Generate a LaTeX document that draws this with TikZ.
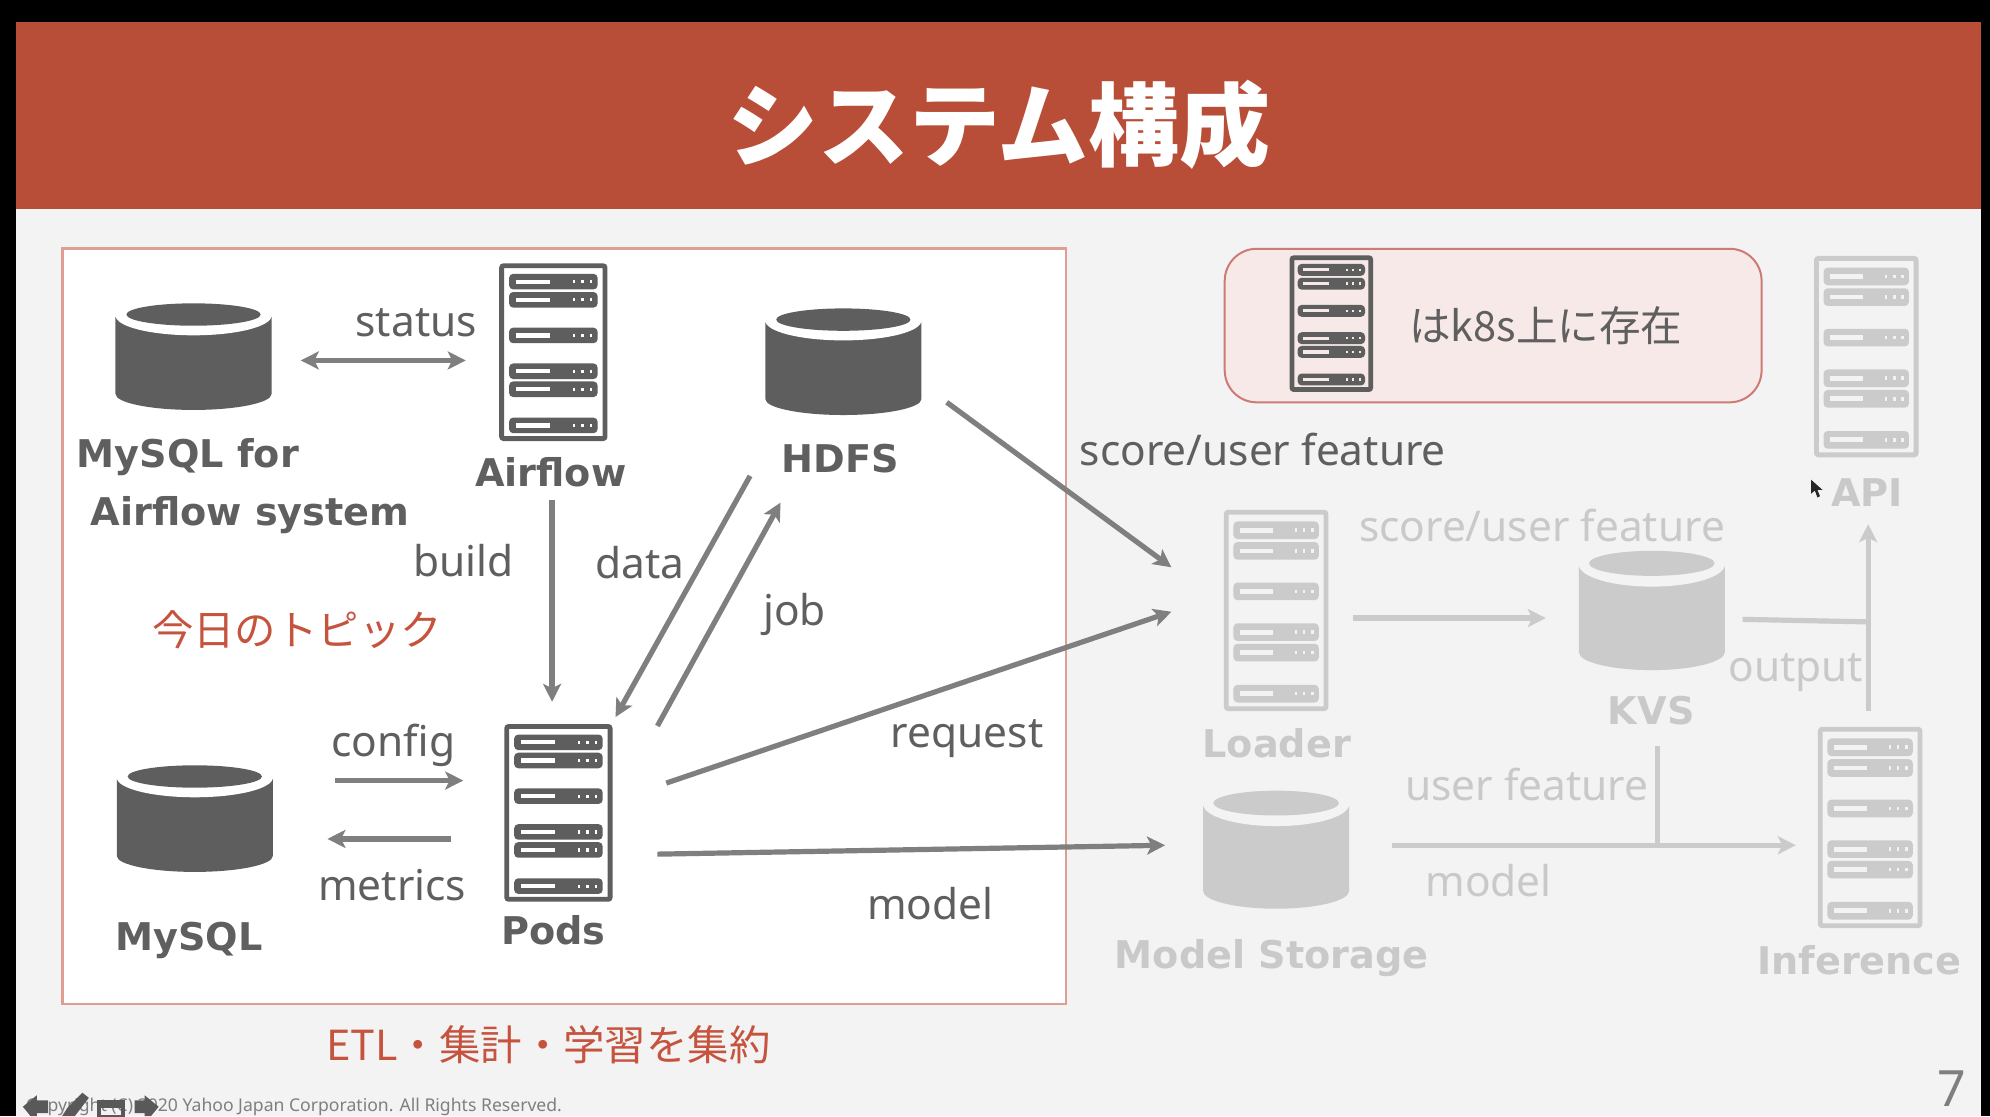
\documentclass[tikz,border=0pt]{standalone}
\usepackage{fontspec}
\setmainfont{Noto Sans}
\newfontfamily\jpf{Noto Sans CJK JP}
\newfontfamily\bfam{DejaVu Sans}
\usetikzlibrary{arrows.meta}
\definecolor{bgc}{HTML}{F3F3F3}
\definecolor{hdr}{HTML}{B94E38}
\definecolor{dk}{HTML}{5E5E5E}
\definecolor{txt}{HTML}{5F5F5F}
\definecolor{arr}{HTML}{7F7F7F}
\definecolor{lg}{HTML}{CBCBCB}
\definecolor{lgt}{HTML}{C9C9C9}
\definecolor{redt}{HTML}{C5533E}
\definecolor{bdr}{HTML}{DE9E92}
\definecolor{pinkf}{HTML}{F7E9E8}
\definecolor{pinkb}{HTML}{CC7B75}
\newcommand{\servicon}[6]{% x1 y1 x2 y2 colour barcolour
  \pgfmathsetmacro\sw{#3-#1}\pgfmathsetmacro\sh{#4-#2}
  \begin{scope}[shift={(#1,#2)},xscale=\sw,yscale=\sh]
    \draw[#5,line width=2.4pt,rounded corners=1pt] (0.015,0.01) rectangle (0.985,0.99);
    \foreach \yy in {0.10,0.203,0.405,0.608,0.71,0.915}{
      \fill[#5,rounded corners=2pt] (0.085,\yy-0.044) rectangle (0.915,\yy+0.044);
      \fill[#6] (0.15,\yy-0.012) rectangle (0.47,\yy+0.012);
      \foreach \xx in {0.68,0.76,0.84}{\fill[#6] (\xx,\yy-0.009) rectangle (\xx+0.025,\yy+0.009);}
    }
  \end{scope}}
\newcommand{\cylicon}[6]{% x1 y1 x2 y2 colour ringcolour
  \pgfmathsetmacro\sw{#3-#1}\pgfmathsetmacro\sh{#4-#2}
  \begin{scope}[shift={(#1,#2)},xscale=\sw,yscale=\sh]
    \fill[#5] (0,0.13) -- (0,0.85) arc[start angle=180,end angle=0,x radius=0.5,y radius=0.15] -- (1,0.13) -- cycle;
    \fill[#6] (0.5,0.115) ellipse[x radius=0.5,y radius=0.185];
    \fill[#5] (0.5,0.105) ellipse[x radius=0.43,y radius=0.105];
  \end{scope}}
\tikzset{
  lab/.style={font=\fontsize{21.2}{25}\selectfont,text=txt,inner sep=0pt},
  blab/.style={font=\bfam\fontsize{19.1}{23}\selectfont\bfseries,text=txt,inner sep=0pt},
  llab/.style={font=\fontsize{21.2}{25}\selectfont,text=lgt,inner sep=0pt},
  lblab/.style={font=\bfam\fontsize{19.1}{23}\selectfont\bfseries,text=lgt,inner sep=0pt},
  redlab/.style={font=\fontsize{20.7}{24}\selectfont\jpf,text=redt,inner sep=0pt},
  conn/.style={draw=arr,line width=2.6pt,-{Stealth[length=9pt,width=9pt,inset=2.2pt]}},
  conntwo/.style={draw=arr,line width=2.6pt,{Stealth[length=9pt,width=9pt,inset=2.2pt]}-{Stealth[length=9pt,width=9pt,inset=2.2pt]}},
  lconn/.style={draw=lg,line width=2.6pt,-{Stealth[length=9pt,width=9pt,inset=2.2pt]}},
  lline/.style={draw=lg,line width=2.6pt},
}
\begin{document}
\begin{tikzpicture}[x=0.63457pt,y=-0.63457pt]
\useasboundingbox (0,0) rectangle (1568,879.34);
% background
\fill[bgc] (0,0) rectangle (1568,879.34);
\fill[black] (0,0) rectangle (13,879.34);
\fill[black] (1561,0) rectangle (1568,879.34);
\fill[black] (0,0) rectangle (1568,17);
\fill[hdr] (13,17) rectangle (1561,165);
\node[font=\fontsize{45.5}{50}\selectfont\jpf\bfseries,text=white,inner sep=0pt] (title) at (787,98) {システム構成};
% boxes
\draw[bdr,fill=white,line width=1.4pt] (49,196) rectangle (840,791);
\draw[pinkb,fill=pinkf,line width=1pt,rounded corners=16pt] (965,196) rectangle (1388,317);
% icons, dark
\cylicon{91}{239}{214}{323}{dk}{white}
\cylicon{603}{243}{726}{327}{dk}{white}
\cylicon{92}{603}{215}{687}{dk}{white}
\servicon{394}{208}{478}{347}{dk}{white}
\servicon{398}{571}{482}{710}{dk}{white}
\servicon{1017}{202}{1081}{308}{dk}{pinkf}
% icons, light
\servicon{1430}{202}{1511}{360}{lg}{bgc}
\servicon{965}{402}{1046}{560}{lg}{bgc}
\servicon{1433}{573}{1514}{731}{lg}{bgc}
\cylicon{1244}{434}{1359}{528}{lg}{bgc}
\cylicon{948}{623}{1063}{716}{lg}{bgc}
% coordinates for connectors
\coordinate (sa) at (237,284); \coordinate (sb) at (367,284);
\coordinate (ba) at (435,394); \coordinate (bb) at (435,553);
\coordinate (da) at (591,375); \coordinate (db) at (485,565);
\coordinate (ja) at (518,572); \coordinate (jb) at (615,396);
\coordinate (ua) at (746,317); \coordinate (ub) at (923,447);
\coordinate (ra) at (525,617); \coordinate (rb) at (923,482);
\coordinate (ma) at (518,673); \coordinate (mb) at (918,666);
\coordinate (ca) at (264,615); \coordinate (cb) at (365,615);
\coordinate (ea) at (355,661); \coordinate (eb) at (258,661);
\coordinate (la) at (1066,487); \coordinate (lb) at (1218,487);
\coordinate (oa) at (1373,488); \coordinate (ob) at (1472,490);
\coordinate (pa) at (1472,560); \coordinate (pb) at (1472,413);
\coordinate (na) at (1097,666); \coordinate (nb) at (1415,666);
\coordinate (fa) at (1306,588); \coordinate (fb) at (1306,666);
% connectors
\draw[conntwo] (sa) -- (sb);
\draw[conn] (ba) -- (bb);
\draw[conn] (da) -- (db);
\draw[conn] (ja) -- (jb);
\draw[conn] (ua) -- (ub);
\draw[conn] (ra) -- (rb);
\draw[conn] (ma) -- (mb);
\draw[conn] (ca) -- (cb);
\draw[conn] (ea) -- (eb);
\draw[lconn] (la) -- (lb);
\draw[lline] (oa) -- (ob);
\draw[lconn] (pa) -- (pb);
\draw[lconn] (na) -- (nb);
\draw[lline] (fa) -- (fb);
% labels
\node[lab] (t1) at (328,254) {status};
\node[blab] (t2) at (434,372) {Airflow};
\node[blab] (t3) at (148,360) {MySQL for};
\node[blab] (t4) at (197,406) {Airflow system};
\node[blab] (t5) at (662,361) {HDFS};
\node[lab] (t6) at (365,442) {build};
\node[lab] (t7) at (504,443) {data};
\node[lab] (t8) at (626,484) {job};
\node[redlab] (t9) at (234,496) {今日のトピック};
\node[lab] (t10) at (310,587) {config};
\node[lab] (t11) at (309,697) {metrics};
\node[blab] (t12) at (149,741) {MySQL};
\node[blab] (t13) at (436,733) {Pods};
\node[lab] (t14) at (762,582) {request};
\node[lab] (t15) at (733,712) {model};
\node[redlab] (t16) at (432,823) {ETL・集計・学習を集約};
\node[lab] (t17) at (995,354) {score/user feature};
\node[lab,font=\fontsize{20.8}{24}\selectfont\jpf] (t18) at (1218,257) {はk8s上に存在};
\node[lab,font=\fontsize{25}{28}\selectfont,text=arr] (t19) at (1538,858) {7};
\node[lblab] (t20) at (1006,586) {Loader};
\node[llab] (t21) at (1215,414) {score/user feature};
\node[lblab] (t22) at (1301,560) {KVS};
\node[llab] (t23) at (1415,530) {output};
\node[llab] (t24) at (1203,618) {user feature};
\node[llab] (t25) at (1173,694) {model};
\node[lblab] (t26) at (1002,755) {Model Storage};
\node[lblab] (t27) at (1465,757) {Inference};
\node[lblab] (t28) at (1471,388) {API};
% footer
\node[font=\fontsize{8.8}{10}\selectfont,text=arr,inner sep=0pt,anchor=west] (copy) at (20,872) {Copyright (C) 2020 Yahoo Japan Corporation. All Rights Reserved.};
% slide navigation icons
\fill[arr!70!black] (18,872) -- (29,863) -- (29,867) -- (38,867) -- (38,877) -- (29,877) -- (29,879.34) -- (24,879.34) -- cycle;
\fill[arr!70!black] (49,879.34) -- (53,873) -- (65,861) -- (70,865) -- (59,879.34) -- cycle;
\draw[arr!70!black,line width=1.8pt] (78,868) rectangle (97,880);
\fill[arr!70!black] (78,868) rectangle (97,873);
\fill[arr!70!black] (125,872) -- (114,863) -- (114,867) -- (106,867) -- (106,877) -- (114,877) -- (114,879.34) -- (119,879.34) -- cycle;
% mouse pointer
\fill[black!85] (1427,378) -- (1427,389) -- (1430,386.5) -- (1432,392) -- (1434,391) -- (1432,386) -- (1436,386) -- cycle;
\end{tikzpicture}
\end{document}
